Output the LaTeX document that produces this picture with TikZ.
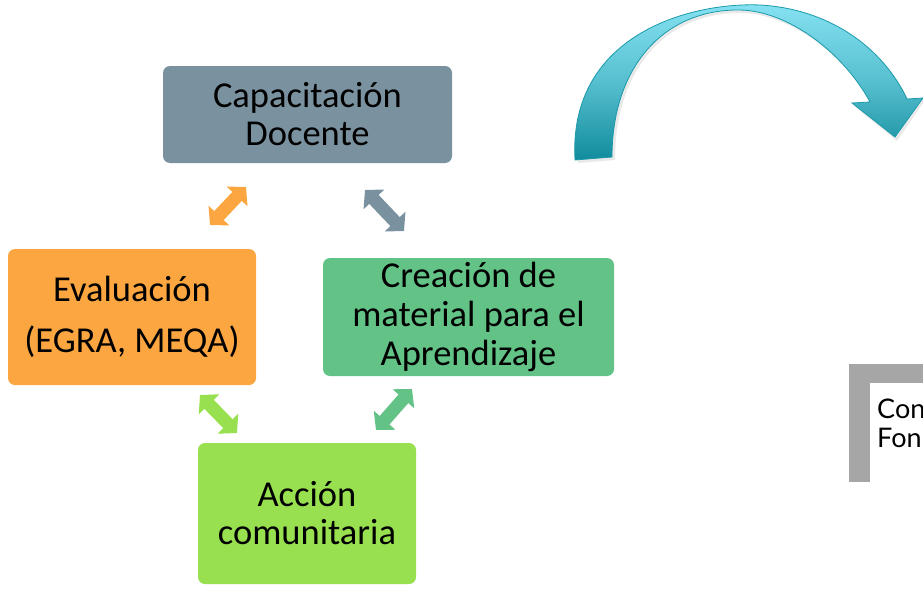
\documentclass[tikz,border=0pt]{standalone}
\usepackage{fontspec}
\setmainfont{Carlito}
\newfontfamily\gillfont{Lato}
\usetikzlibrary{arrows.meta}
\definecolor{capgray}{HTML}{7A929F}
\definecolor{evalorange}{HTML}{FBA640}
\definecolor{creagreen}{HTML}{63C387}
\definecolor{accgreen}{HTML}{98E04F}
\definecolor{barbgray}{HTML}{A6A6A6}
\definecolor{tealdark}{HTML}{118C9C}
\definecolor{teallight}{HTML}{86E2F2}
\definecolor{tealedge}{HTML}{1A9AAB}
\tikzset{
  box/.style={rounded corners=7pt, inner sep=0pt, align=center, text=black,
    font=\fontsize{36.5}{38}\selectfont},
  dbl/.style={line width=13pt,
    {Triangle[length=13pt,width=28pt]}-{Triangle[length=13pt,width=28pt]}}
}
\begin{document}
\begin{tikzpicture}[x=1pt,y=-1pt]
\useasboundingbox (0,0) rectangle (923,589);
% boxes
\node[box, fill=capgray, minimum width=289pt, minimum height=97pt] (cap) at (307.5,114.5) {Capacitación\\Docente};
\node[box, fill=evalorange, minimum width=248pt, minimum height=136pt,
      font=\fontsize{36.5}{51}\selectfont] (eva) at (132,317) {Evaluación\\(EGRA, MEQA)};
\node[box, fill=creagreen, minimum width=291pt, minimum height=118pt,
      font=\fontsize{36.5}{39}\selectfont] (cre) at (468.5,317) {Creación de\\material para el\\Aprendizaje};
\node[box, fill=accgreen, minimum width=218pt, minimum height=141pt] (acc) at (307,513.5) {Acción\\comunitaria};
% double arrows
\coordinate (a1) at (210,225); \coordinate (a2) at (246,187);
\coordinate (g1) at (365,190); \coordinate (g2) at (404,231);
\coordinate (l1) at (200,395); \coordinate (l2) at (237,433);
\coordinate (n1) at (376,430); \coordinate (n2) at (412,389);
\draw[dbl, evalorange] (a1) -- (a2);
\draw[dbl, capgray] (g1) -- (g2);
\draw[dbl, accgreen] (l1) -- (l2);
\draw[dbl, creagreen] (n1) -- (n2);
% curved arrow
\fill[black!25, opacity=0.35] (578,163) .. controls (572,40) and (690,5) .. (760,8)
  .. controls (830,12) and (885,50) .. (909,101) -- (925,100) -- (897,141) -- (854,106) -- (872,105)
  .. controls (845,55) and (790,14) .. (742,13) .. controls (665,12) and (615,70) .. (615,160) -- cycle;
\path[draw=tealedge, line width=0.8pt, top color=teallight, bottom color=tealdark, middle color=teallight!60!tealdark]
  (575,160) .. controls (568,35) and (690,2) .. (760,5)
  .. controls (830,9) and (883,48) .. (907,99) -- (923,98) -- (895,137) -- (852,103) -- (870,102)
  .. controls (843,52) and (788,11) .. (740,10) .. controls (663,9) and (612,68) .. (612,157) -- cycle;
% bracket box
\fill[barbgray] (849,364) rectangle (923,383);
\fill[barbgray] (849,364) rectangle (870,482);
\node[anchor=west, inner sep=0pt, align=left, font=\gillfont\fontsize{27}{29}\selectfont] (con) at (877,423) {Con\\Fon};
\end{tikzpicture}
\end{document}
